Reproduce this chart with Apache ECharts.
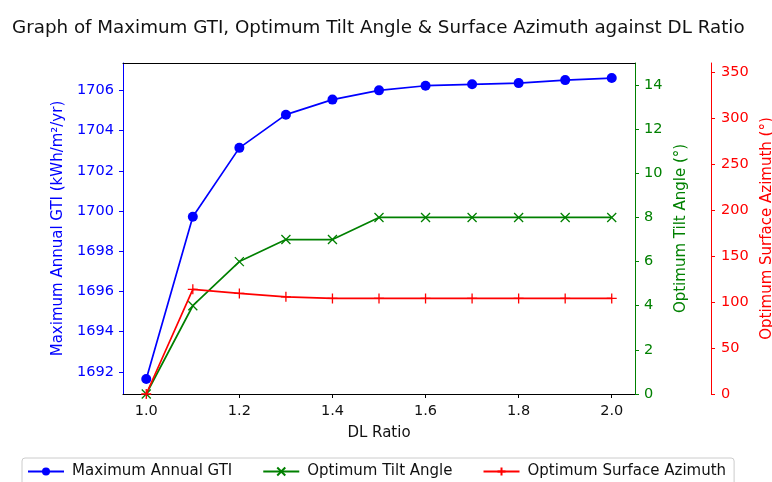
<!DOCTYPE html>
<html>
<head>
<meta charset="utf-8">
<title>Maximum GTI, Optimum Tilt Angle &amp; Surface Azimuth vs DL Ratio</title>
<script src="https://cdn.jsdelivr.net/npm/echarts@6/dist/echarts.min.js"></script>
<style>
  html, body { margin: 0; padding: 0; background: #fff; }
  #chart { width: 772px; height: 482px; }
</style>
</head>
<body>
<div id="chart"></div>
<script>
// DL ratio on the x axis
const dlRatio = [1.0, 1.1, 1.2, 1.3, 1.4, 1.5, 1.6, 1.7, 1.8, 1.9, 2.0];
// Maximum annual GTI (kWh/m²/yr)
const maxGTI = [1691.65, 1699.71, 1703.14, 1704.79, 1705.54, 1706.0, 1706.23, 1706.30, 1706.36, 1706.51, 1706.61];
// Optimum tilt angle (°)
const tiltAngle = [0, 4, 6, 7, 7, 8, 8, 8, 8, 8, 8];
// Optimum surface azimuth (°)
const surfaceAzimuth = [0, 113.8, 109.4, 105.7, 104.0, 104.0, 104.0, 104.0, 104.0, 104.0, 104.0];

// Tick labels
const xTicks = [1.0, 1.2, 1.4, 1.6, 1.8, 2.0];
const gtiTicks = [1692, 1694, 1696, 1698, 1700, 1702, 1704, 1706];
const tiltTicks = [0, 2, 4, 6, 8, 10, 12, 14];
const azimuthTicks = [0, 50, 100, 150, 200, 250, 300, 350];

const FONT = 'DejaVu Sans';
const BLUE = '#0000ff';
const GREEN = '#008000';
const RED = '#ff0000';
const TICK_FONT = 14.5;
const NAME_FONT = 15;

const pairs = (ys) => dlRatio.map((x, i) => [x, ys[i]]);

const crossPath = 'path://M0,0L10,10M10,0L0,10';
const plusPath = 'path://M5,0L5,10M0,5L10,5';

function yAxisBase(color, ticks, min, max, name, nameGap, offset, position, labelMargin) {
  return {
    type: 'value',
    position: position,
    offset: offset,
    min: min,
    max: max,
    name: name,
    nameLocation: 'middle',
    nameRotate: 90,
    nameGap: nameGap,
    nameTextStyle: { color: color, fontFamily: FONT, fontSize: NAME_FONT },
    axisLine: { show: true, onZero: false, lineStyle: { color: color, width: 1 } },
    axisTick: { show: true, length: 4, lineStyle: { color: color }, customValues: ticks },
    axisLabel: {
      color: color, fontFamily: FONT, fontSize: TICK_FONT, margin: labelMargin,
      customValues: ticks,
      formatter: (v) => String(Math.round(v))
    },
    splitLine: { show: false }
  };
}

const chart = echarts.init(document.getElementById('chart'), null, { renderer: 'canvas' });

chart.setOption({
  animation: false,
  backgroundColor: '#ffffff',
  title: {
    text: 'Graph of Maximum GTI, Optimum Tilt Angle & Surface Azimuth against DL Ratio',
    left: 7,
    top: 14,
    textStyle: { fontFamily: FONT, fontSize: 18.3, fontWeight: 'normal', color: '#111' }
  },
  grid: { left: 123, right: 137, top: 63, bottom: 88, outerBoundsMode: 'none' },
  legend: {
    left: 22,
    top: 458,
    padding: [6, 8, 8, 5],
    itemWidth: 36,
    itemHeight: 10,
    itemGap: 30,
    borderColor: '#cccccc',
    borderWidth: 1,
    borderRadius: 3,
    backgroundColor: '#ffffff',
    textStyle: { fontFamily: FONT, fontSize: 15, color: '#111', padding: [0, 0, 0, 3] },
    data: ['Maximum Annual GTI', 'Optimum Tilt Angle', 'Optimum Surface Azimuth']
  },
  xAxis: [
    {
      type: 'value',
      position: 'bottom',
      min: 0.95,
      max: 2.05,
      name: 'DL Ratio',
      nameLocation: 'middle',
      nameGap: 32,
      nameTextStyle: { color: '#111', fontFamily: FONT, fontSize: NAME_FONT },
      axisLine: { show: true, onZero: false, lineStyle: { color: '#000', width: 1 } },
      axisTick: { show: true, length: 4, lineStyle: { color: '#000' }, customValues: xTicks },
      axisLabel: {
        color: '#111', fontFamily: FONT, fontSize: TICK_FONT, margin: 10,
        customValues: xTicks,
        formatter: (v) => v.toFixed(1)
      },
      splitLine: { show: false }
    },
    {
      // top frame line
      type: 'value',
      position: 'top',
      min: 0.95,
      max: 2.05,
      axisLine: { show: true, onZero: false, lineStyle: { color: '#000', width: 1 } },
      axisTick: { show: false },
      axisLabel: { show: false },
      splitLine: { show: false }
    }
  ],
  yAxis: [
    yAxisBase(BLUE, gtiTicks, 1690.90, 1707.36, 'Maximum Annual GTI (kWh/m²/yr)', 57, 0, 'left', 9),
    yAxisBase(GREEN, tiltTicks, 0, 15, 'Optimum Tilt Angle (°)', 32, 0, 'right', 9),
    yAxisBase(RED, azimuthTicks, 0, 360, 'Optimum Surface Azimuth (°)', 47, 76, 'right', 10)
  ],
  series: [
    {
      name: 'Maximum Annual GTI',
      type: 'line',
      xAxisIndex: 0,
      yAxisIndex: 0,
      data: pairs(maxGTI),
      symbol: 'circle',
      symbolSize: 10,
      lineStyle: { color: BLUE, width: 1.7 },
      itemStyle: { color: BLUE },
      z: 2
    },
    {
      name: 'Optimum Tilt Angle',
      type: 'line',
      xAxisIndex: 0,
      yAxisIndex: 1,
      data: pairs(tiltAngle),
      symbol: crossPath,
      symbolSize: 9,
      lineStyle: { color: GREEN, width: 1.7 },
      itemStyle: { color: GREEN, borderColor: GREEN, borderWidth: 1.3 },
      z: 3
    },
    {
      name: 'Optimum Surface Azimuth',
      type: 'line',
      xAxisIndex: 0,
      yAxisIndex: 2,
      data: pairs(surfaceAzimuth),
      symbol: plusPath,
      symbolSize: 10,
      lineStyle: { color: RED, width: 1.7 },
      itemStyle: { color: RED, borderColor: RED, borderWidth: 1.3 },
      z: 4
    }
  ]
});
</script>
</body>
</html>
